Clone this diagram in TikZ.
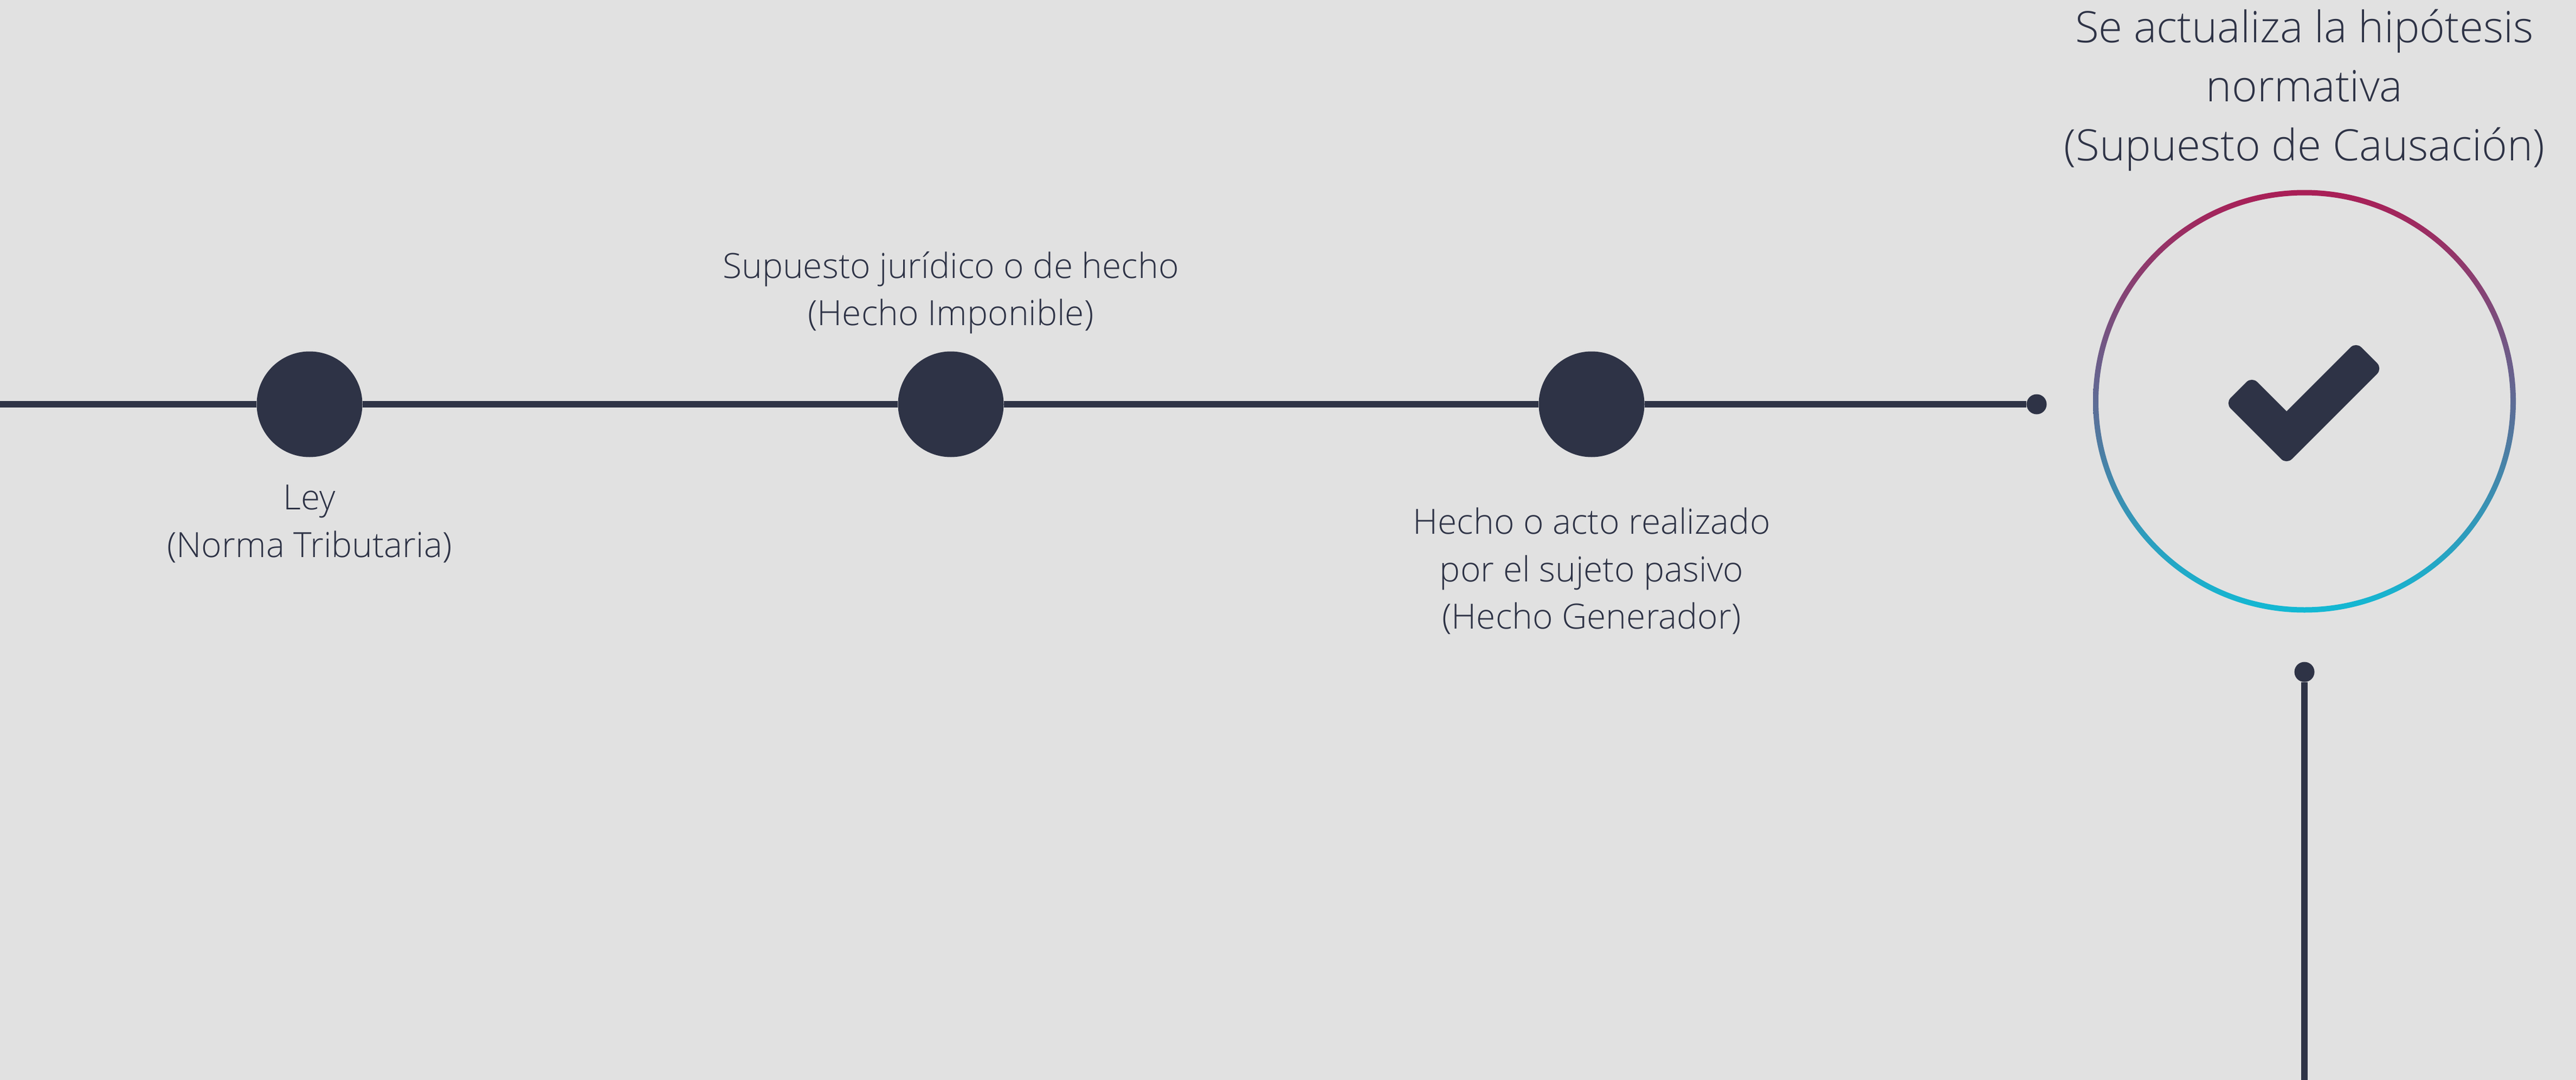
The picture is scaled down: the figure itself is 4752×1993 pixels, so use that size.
\documentclass[tikz,border=0pt]{standalone}
\usepackage{fontspec}
\setmainfont{Open Sans Light}
\definecolor{bgc}{HTML}{E1E1E1}
\definecolor{ink}{HTML}{2E3346}
\definecolor{ringtop}{HTML}{AA1E56}
\definecolor{ringbot}{HTML}{12B9D4}
\tikzset{
  bigdot/.style={circle,fill=ink,draw=none,inner sep=0pt,minimum size=195pt},
  smalldot/.style={circle,fill=ink,draw=none,inner sep=0pt,minimum size=37pt},
  wire/.style={draw=ink,line width=12pt},
  lab/.style={align=center,text=ink,inner sep=0pt,font=\fontsize{64.1}{87.7}\selectfont},
  title/.style={align=center,text=ink,inner sep=0pt,font=\fontsize{80}{109}\selectfont}
}
\begin{document}
\begin{tikzpicture}[x=1pt,y=-1pt]
\useasboundingbox (0,0) rectangle (4752,1993);
\fill[bgc] (0,0) rectangle (4752,1993);
\coordinate (start) at (0,746);
\coordinate (stop) at (4251,1993);
\node[bigdot] (a) at (571,746) {};
\node[bigdot] (b) at (1754,746) {};
\node[bigdot] (c) at (2936,746) {};
\node[smalldot] (d) at (3757,746) {};
\node[smalldot] (e) at (4251,1240) {};
\draw[wire] (start) -- (a) -- (b) -- (c) -- (d);
\draw[wire] (e) -- (stop);
\node[lab] (la) at (571,967) {Ley\\(Norma Tributaria)};
\node[lab] (lb) at (1754,540) {Supuesto jurídico o de hecho\\(Hecho Imponible)};
\node[lab] (lc) at (2936,1054) {Hecho o acto realizado\\por el sujeto pasivo\\(Hecho Generador)};
\node[title] (lt) at (4251,166) {Se actualiza la hipótesis\\normativa\\(Supuesto de Causación)};
\shade[even odd rule,top color=ringtop,bottom color=ringbot] (4251,740.5) circle[radius=390pt] (4251,740.5) circle[radius=380pt];
\fill[ink] [sharp corners] (4218,759) [rounded corners=14pt] -- (4346,631) -- (4395,680) -- (4218,857) -- (4105,744) -- (4154,695) [sharp corners] -- cycle;
\end{tikzpicture}
\end{document}
